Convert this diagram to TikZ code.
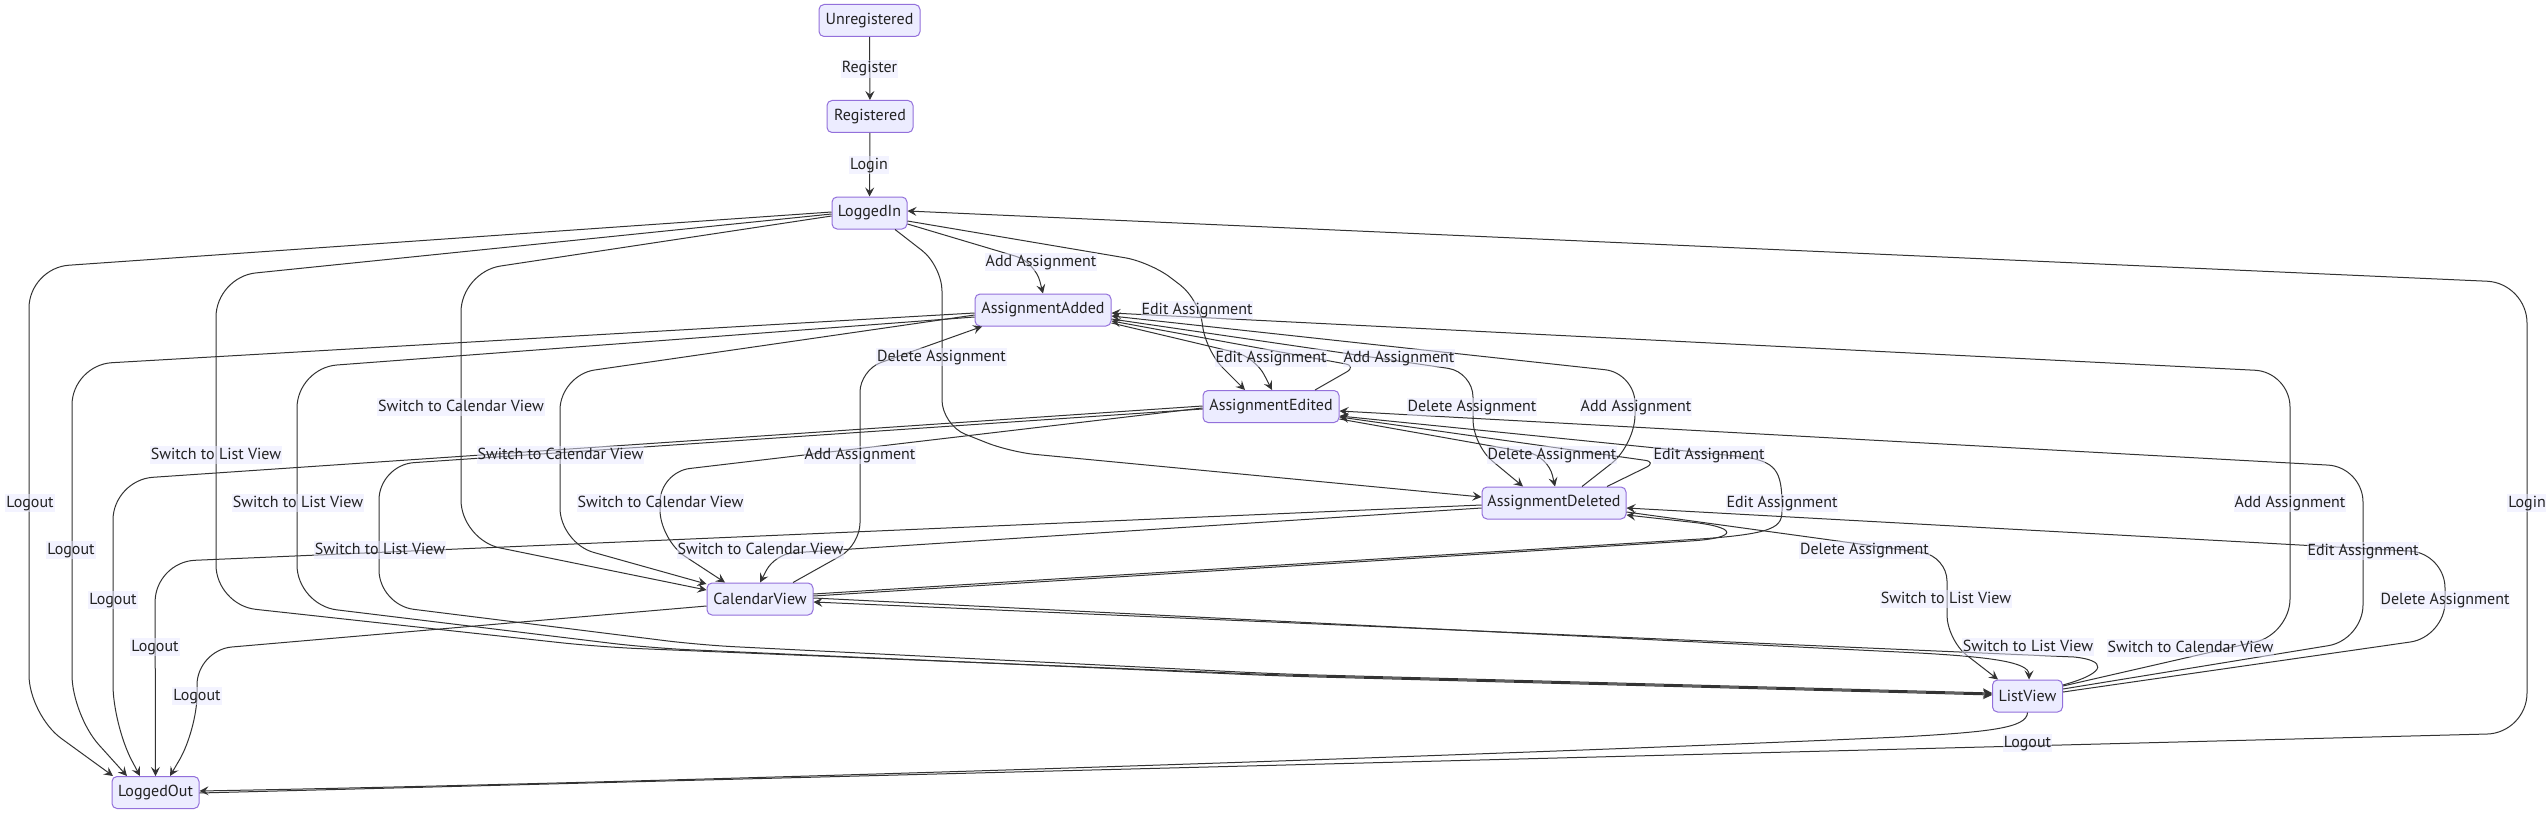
\documentclass[tikz,border=0pt]{standalone}
\usepackage{fontspec}
\setmainfont{PT Sans}
\usetikzlibrary{arrows.meta}
\definecolor{nodefill}{HTML}{ECECFF}
\definecolor{nodedraw}{HTML}{9370DB}
\definecolor{edgecol}{HTML}{333333}
\definecolor{lblfill}{HTML}{E8E8FF}
\definecolor{txt}{HTML}{222222}
\begin{document}
\begin{tikzpicture}[x=1pt,y=-1pt,
  st/.style={draw=nodedraw, fill=nodefill, line width=1pt, rounded corners=5pt, minimum height=32pt, inner sep=0pt, font=\fontsize{16}{19}\selectfont, text=txt},
  lb/.style={fill=lblfill, fill opacity=0.5, text opacity=1, inner xsep=1pt, inner ysep=1pt, text height=12pt, text depth=4pt, font=\fontsize{16}{19}\selectfont, text=txt},
  ed/.style={draw=edgecol, line width=1pt, -{Stealth[length=9pt,width=9pt,inset=3.5pt]}},
]
\useasboundingbox (0,0) rectangle (2546,840);
\fill[white] (0,0) rectangle (2546,840);

% states
\node[st, minimum width=101pt] (UR) at (869.5,20.5) {Unregistered};
\node[st, minimum width=86pt]  (RG) at (870,116.5) {Registered};
\node[st, minimum width=75pt]  (LI) at (869.5,213) {LoggedIn};
\node[st, minimum width=136pt] (AA) at (1043,310) {AssignmentAdded};
\node[st, minimum width=136pt] (AE) at (1271,406.5) {AssignmentEdited};
\node[st, minimum width=144pt] (AD) at (1554,503) {AssignmentDeleted};
\node[st, minimum width=106pt] (CV) at (760,599) {CalendarView};
\node[st, minimum width=70pt]  (LV) at (2027.5,696) {ListView};
\node[st, minimum width=87pt]  (LO) at (155.5,792.5) {LoggedOut};

% edges
\draw[ed] (UR) -- (RG);
\draw[ed] (RG) -- (LI);

% from LoggedIn
\draw[ed,rounded corners=20pt] (LI.east |- 0,224) -- (1035,262) -- (1043,0 |- AA.north);
\draw[ed,rounded corners=25pt] (LI.east |- 0,221) -- (1150,262) -- (1200,300) -- (1205,350) -- (1245,0 |- AE.north);
\draw[ed,rounded corners=25pt] (895,0 |- LI.south) -- (942,266) -- (942,425) -- (1010,452) -- (AD.west |- 0,497);
\draw[ed,rounded corners=40pt] (LI.west |- 0,216) -- (461,272) -- (461,540) -- (CV.west |- 0,590);
\draw[ed,rounded corners=40pt] (LI.west |- 0,214) -- (216,277) -- (216,605) -- (600,647) -- (1280,675) -- (LV.west |- 0,694);
\draw[ed,rounded corners=40pt] (LI.west |- 0,212) -- (29,268) -- (29,715) -- (113,0 |- LO.north);

% from AssignmentAdded
\draw[ed,rounded corners=20pt] (AA.east |- 0,323) -- (1255,357) -- (1272,0 |- AE.north);
\draw[ed,rounded corners=25pt] (AA.east |- 0,319) -- (1473,372) -- (1473,445) -- (1523,0 |- AD.north);
\draw[ed,rounded corners=35pt] (AA.west |- 0,315) -- (560,375) -- (560,543) -- (CV.west |- 0,584);
\draw[ed,rounded corners=40pt] (AA.west |- 0,317) -- (297,368) -- (297,605) -- (650,648) -- (1280,676) -- (LV.west |- 0,695);
\draw[ed,rounded corners=40pt] (AA.west |- 0,313) -- (72,365) -- (72,715) -- (127,0 |- LO.north);

% from AssignmentEdited
\draw[ed,rounded corners=12pt] (1315,0 |- AE.north) -- (1357,366) -- (AA.east |- 0,321);
\draw[ed,rounded corners=20pt] (AE.east |- 0,419) -- (1548,456) -- (1555,0 |- AD.north);
\draw[ed,rounded corners=30pt] (AE.west |- 0,408) -- (660,472) -- (660,540) -- (725,0 |- CV.north);
\draw[ed,rounded corners=35pt] (AE.west |- 0,409) -- (379,465) -- (379,605) -- (700,645) -- (1280,674) -- (LV.west |- 0,693);
\draw[ed,rounded corners=40pt] (AE.west |- 0,406) -- (113,480) -- (113,725) -- (140,0 |- LO.north);

% from AssignmentDeleted
\draw[ed,rounded corners=30pt] (1582,0 |- AD.north) -- (1635,445) -- (1635,373) -- (AA.east |- 0,316);
\draw[ed,rounded corners=12pt] (1607,0 |- AD.north) -- (1657,462) -- (AE.east |- 0,417);
\draw[ed,rounded corners=18pt] (AD.west |- 0,508) -- (775,554) -- (760,0 |- CV.north);
\draw[ed,rounded corners=25pt] (AD.east |- 0,512) -- (1947,556) -- (1947,640) -- (1998,0 |- LV.north);
\draw[ed,rounded corners=40pt] (AD.west |- 0,505) -- (155,562) -- (LO.north);

% from CalendarView
\draw[ed,rounded corners=22pt] (793,0 |- CV.north) -- (860,545) -- (860,370) -- (982,0 |- AA.south);
\draw[ed] (CV.east |- 0,594) -- (1700,539) .. controls (1785,533) and (1782,525) .. (1782,505) .. controls (1782,470) and (1775,462) .. (1745,457) -- (AE.east |- 0,416);
\draw[ed] (CV.east |- 0,596) -- (1690,541) .. controls (1740,538) and (1738,527) .. (1690,522) -- (AD.east |- 0,515);
\draw[ed] (CV.east |- 0,598) -- (1919,653) .. controls (1990,657) and (2029,662) .. (2029,0 |- LV.north);
\draw[ed,rounded corners=35pt] (CV.west |- 0,606) -- (197,650) -- (197,730) -- (170,0 |- LO.north);

% from ListView
\draw[ed,rounded corners=35pt] (LV.east |- 0,686) -- (2290,634) -- (2290,372) -- (AA.east |- 0,313);
\draw[ed,rounded corners=35pt] (LV.east |- 0,689) -- (2363,640) -- (2363,467) -- (AE.east |- 0,411);
\draw[ed,rounded corners=35pt] (LV.east |- 0,692) -- (2445,637) -- (2445,553) -- (AD.east |- 0,508);
\draw[ed] (LV.east |- 0,685) .. controls (2110,672) and (2105,660) .. (2074,657) -- (CV.east |- 0,602);
\draw[ed] (LV.south) .. controls (2027,728) and (1990,732) .. (1900,737) .. controls (1500,755) and (700,782) .. (LO.east |- 0,791);

% from LoggedOut
\draw[ed,rounded corners=40pt] (LO.east |- 0,793) -- (2527,733) -- (2527,283) -- (LI.east |- 0,211);

% edge labels
\node[lb] (l01) at (869.5,69) {Register};
\node[lb] (l02) at (869,165) {Login};
\node[lb] (l03) at (1041,262) {Add Assignment};
\node[lb] (l04) at (1197,310) {Edit Assignment};
\node[lb] (l05) at (941.5,357) {Delete Assignment};
\node[lb] (l06) at (1271,358) {Edit Assignment};
\node[lb] (l07) at (1399,358) {Add Assignment};
\node[lb] (l08) at (461,407) {Switch to Calendar View};
\node[lb] (l09) at (1472,407) {Delete Assignment};
\node[lb] (l10) at (1636,407) {Add Assignment};
\node[lb] (l11) at (216,455) {Switch to List View};
\node[lb] (l12) at (560.5,455) {Switch to Calendar View};
\node[lb] (l13) at (860,455) {Add Assignment};
\node[lb] (l14) at (1552,455) {Delete Assignment};
\node[lb] (l15) at (1709,455) {Edit Assignment};
\node[lb] (l16) at (30,503) {Logout};
\node[lb] (l17) at (298,503) {Switch to List View};
\node[lb] (l18) at (660.5,503) {Switch to Calendar View};
\node[lb] (l19) at (1782,503) {Edit Assignment};
\node[lb] (l20) at (2290,503) {Add Assignment};
\node[lb] (l21) at (2527,503) {Login};
\node[lb] (l22) at (71,550) {Logout};
\node[lb] (l23) at (380,550) {Switch to List View};
\node[lb] (l24) at (760.5,550) {Switch to Calendar View};
\node[lb] (l25) at (1864.5,550) {Delete Assignment};
\node[lb] (l26) at (2363,551) {Edit Assignment};
\node[lb] (l27) at (113,600) {Logout};
\node[lb] (l28) at (1946,599) {Switch to List View};
\node[lb] (l29) at (2445,600) {Delete Assignment};
\node[lb] (l30) at (155,647) {Logout};
\node[lb] (l31) at (2028,647) {Switch to List View};
\node[lb] (l32) at (2190.5,648) {Switch to Calendar View};
\node[lb] (l33) at (197,696) {Logout};
\node[lb] (l34) at (2027.5,743) {Logout};
\end{tikzpicture}
\end{document}
